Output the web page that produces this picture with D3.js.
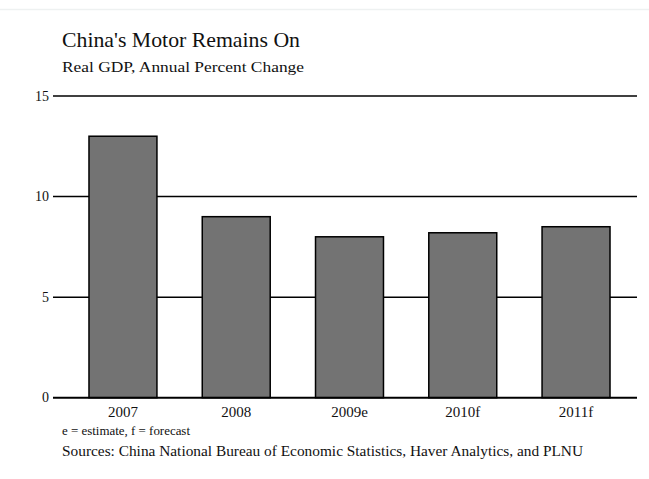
<!DOCTYPE html>
<html>
<head>
<meta charset="utf-8">
<script src="https://cdn.jsdelivr.net/npm/d3@7"></script>
<style>
  html, body { margin: 0; padding: 0; background: #fff; }
  svg { display: block; }
</style>
</head>
<body>
<svg id="chart" width="649" height="479"></svg>
<script>
// Real GDP growth, annual percent change
const categories = ["2007", "2008", "2009e", "2010f", "2011f"];
const values = [13.0, 9.0, 8.0, 8.2, 8.5];
const yTicks = [0, 5, 10, 15];

const title = "China's Motor Remains On";
const subtitle = "Real GDP, Annual Percent Change";
const note = "e = estimate, f = forecast";
const source = "Sources: China National Bureau of Economic Statistics, Haver Analytics, and PLNU";

const serif = "'Liberation Serif', 'DejaVu Serif', serif";

const svg = d3.select("#chart");

// faint rule across the top
svg.append("line")
  .attr("x1", 0).attr("x2", 649)
  .attr("y1", 9.5).attr("y2", 9.5)
  .attr("stroke", "#eef1f1").attr("stroke-width", 1.5);

const gridLeft = 53, gridRight = 637;

const y = d3.scaleLinear().domain([0, 15]).range([397.7, 96]);
const x = d3.scaleBand()
  .domain(categories)
  .range([55, 644])
  .paddingInner(0.4)
  .paddingOuter(0.3);

// horizontal gridlines
svg.append("g")
  .selectAll("line")
  .data(yTicks.filter(d => d > 0))
  .join("line")
  .attr("x1", gridLeft).attr("x2", gridRight)
  .attr("y1", d => y(d)).attr("y2", d => y(d))
  .attr("stroke", "#000").attr("stroke-width", 1.5);

// y tick labels
svg.append("g")
  .selectAll("text")
  .data(yTicks)
  .join("text")
  .attr("x", 49)
  .attr("y", d => y(d))
  .attr("dy", "0.33em")
  .attr("text-anchor", "end")
  .attr("font-family", serif)
  .attr("font-size", 14)
  .attr("fill", "#111")
  .text(d => d);

// bars
svg.append("g")
  .selectAll("rect")
  .data(values)
  .join("rect")
  .attr("x", (d, i) => x(categories[i]))
  .attr("width", x.bandwidth())
  .attr("y", d => y(d))
  .attr("height", d => y(0) - y(d))
  .attr("fill", "#737373")
  .attr("stroke", "#000")
  .attr("stroke-width", 1.5);

// baseline
svg.append("line")
  .attr("x1", gridLeft).attr("x2", gridRight)
  .attr("y1", y(0)).attr("y2", y(0))
  .attr("stroke", "#000").attr("stroke-width", 2);

// category labels
svg.append("g")
  .selectAll("text")
  .data(categories)
  .join("text")
  .attr("x", d => x(d) + x.bandwidth() / 2)
  .attr("y", 417)
  .attr("text-anchor", "middle")
  .attr("font-family", serif)
  .attr("font-size", 15)
  .attr("fill", "#111")
  .text(d => d);

// titles and notes
function label(txt, xPos, yPos, size, len) {
  svg.append("text")
    .attr("x", xPos).attr("y", yPos)
    .attr("font-family", serif).attr("font-size", size).attr("fill", "#111")
    .attr("textLength", len).attr("lengthAdjust", "spacingAndGlyphs")
    .text(txt);
}

label(title, 62, 47, 21, 238);
label(subtitle, 62, 72, 15, 242);
label(note, 62, 435, 12, 128);
label(source, 62, 456, 15, 521);
</script>
</body>
</html>
